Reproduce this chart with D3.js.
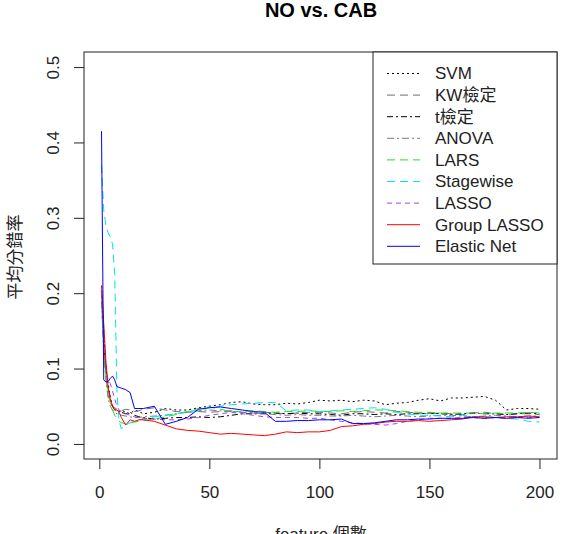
<!DOCTYPE html>
<html>
<head>
<meta charset="utf-8">
<script src="https://cdn.jsdelivr.net/npm/d3@7"></script>
<style>
  body { margin: 0; background: #fff; }
  svg { display: block; }
</style>
</head>
<body>
<script>
// feature counts (x values shared by every series)
const features = [1,2,3,4,5,6,7,8,9,10,12,14,16,18,20,25,30,35,40,45,50,55,60,65,70,75,80,85,90,95,100,
  105,110,115,120,125,130,135,140,145,150,155,160,165,170,175,180,185,190,195,200];

// mean error rate per method
const svm = [0.21,0.15,0.10,0.075,0.06,0.05,0.045,0.045,0.043,0.045,0.042,0.040,0.045,0.043,0.040,0.042,0.047,0.045,0.045,0.048,0.050,0.052,0.055,0.056,0.053,0.052,0.052,0.054,0.053,0.055,0.058,
  0.057,0.058,0.056,0.058,0.057,0.052,0.054,0.055,0.058,0.060,0.057,0.061,0.061,0.062,0.063,0.058,0.045,0.047,0.047,0.046];
const kw = [0.19,0.13,0.09,0.065,0.055,0.05,0.048,0.046,0.045,0.044,0.046,0.045,0.043,0.044,0.046,0.048,0.045,0.043,0.042,0.043,0.042,0.043,0.044,0.042,0.041,0.042,0.041,0.040,0.041,0.042,0.042,
  0.041,0.040,0.042,0.043,0.042,0.041,0.043,0.042,0.041,0.040,0.041,0.040,0.039,0.041,0.042,0.040,0.039,0.040,0.040,0.039];
const ttest = [0.20,0.14,0.10,0.08,0.06,0.05,0.045,0.045,0.043,0.042,0.040,0.042,0.038,0.036,0.035,0.033,0.034,0.035,0.035,0.036,0.035,0.036,0.038,0.040,0.040,0.040,0.041,0.040,0.041,0.040,0.040,
  0.039,0.038,0.040,0.040,0.039,0.040,0.039,0.040,0.040,0.041,0.040,0.039,0.040,0.041,0.040,0.040,0.039,0.040,0.041,0.040];
const anova = [0.19,0.12,0.085,0.06,0.05,0.045,0.042,0.040,0.040,0.038,0.037,0.036,0.035,0.035,0.036,0.037,0.038,0.040,0.042,0.044,0.045,0.044,0.043,0.042,0.041,0.040,0.039,0.038,0.039,0.038,0.038,
  0.037,0.037,0.038,0.037,0.036,0.037,0.038,0.037,0.036,0.037,0.038,0.038,0.037,0.036,0.037,0.038,0.037,0.036,0.037,0.037];
const lars = [0.20,0.13,0.09,0.07,0.055,0.045,0.038,0.033,0.030,0.028,0.027,0.028,0.029,0.030,0.031,0.033,0.036,0.039,0.043,0.047,0.049,0.046,0.043,0.043,0.044,0.043,0.042,0.043,0.043,0.044,0.043,
  0.043,0.044,0.043,0.044,0.045,0.045,0.044,0.043,0.042,0.042,0.041,0.041,0.041,0.041,0.040,0.041,0.041,0.041,0.042,0.041];
const stagewise = [0.37,0.31,0.29,0.28,0.275,0.265,0.225,0.07,0.03,0.02,0.025,0.028,0.030,0.032,0.033,0.036,0.038,0.040,0.043,0.045,0.048,0.050,0.052,0.053,0.054,0.055,0.055,0.044,0.045,0.045,0.043,
  0.044,0.045,0.046,0.047,0.048,0.046,0.042,0.040,0.038,0.038,0.037,0.036,0.038,0.036,0.035,0.036,0.034,0.033,0.030,0.029];
const lasso = [0.20,0.14,0.10,0.085,0.08,0.07,0.06,0.05,0.045,0.042,0.040,0.038,0.036,0.035,0.034,0.033,0.032,0.032,0.033,0.035,0.038,0.040,0.042,0.040,0.038,0.036,0.035,0.035,0.035,0.034,0.034,
  0.032,0.030,0.028,0.027,0.026,0.025,0.027,0.030,0.032,0.034,0.034,0.034,0.035,0.035,0.034,0.035,0.034,0.035,0.035,0.035];
const groupLasso = [0.21,0.16,0.11,0.075,0.06,0.05,0.045,0.045,0.042,0.035,0.025,0.032,0.030,0.032,0.032,0.030,0.025,0.020,0.018,0.017,0.015,0.013,0.014,0.013,0.012,0.011,0.013,0.016,0.015,0.016,0.016,
  0.018,0.023,0.024,0.026,0.027,0.029,0.030,0.030,0.031,0.030,0.031,0.032,0.033,0.036,0.036,0.035,0.036,0.036,0.037,0.036];
const elasticNet = [0.415,0.085,0.082,0.083,0.087,0.09,0.085,0.076,0.075,0.074,0.072,0.068,0.047,0.047,0.047,0.050,0.026,0.030,0.035,0.046,0.048,0.049,0.047,0.045,0.043,0.042,0.030,0.030,0.031,0.031,0.032,
  0.032,0.033,0.027,0.027,0.028,0.030,0.032,0.032,0.033,0.033,0.034,0.034,0.034,0.035,0.034,0.035,0.034,0.035,0.034,0.035];

const methods = ["SVM", "KW檢定", "t檢定", "ANOVA", "LARS", "Stagewise", "LASSO", "Group LASSO", "Elastic Net"];
const methodValues = [svm, kw, ttest, anova, lars, stagewise, lasso, groupLasso, elasticNet];
const colors = ["#000000", "#6e6e6e", "#000000", "#7a7a7a", "#22dd22", "#00e5e5", "#a040f0", "#ff0000", "#0000ff"];
const dashes = ["2,3", "8,5", "6,3,2,3", "7,3,2,3", "8,5", "8,5", "5,4", null, null];

const xTicks = [0, 50, 100, 150, 200];
const yTicks = [0, 0.1, 0.2, 0.3, 0.4, 0.5];

let width = 570;
let height = 534;
let boxLeft = 84;
let boxRight = 557;
let boxTop = 52;
let boxBottom = 459;

const font = "'Liberation Sans', Arial, 'Noto Sans CJK TC', sans-serif";

// R style axes: 4% padding on each side of the data range
let x = d3.scaleLinear()
    .domain([1 - 199 * 0.04, 200 + 199 * 0.04])
    .range([boxLeft, boxRight]);

let y = d3.scaleLinear()
    .domain([-0.02, 0.52])
    .range([boxBottom, boxTop]);

let svg = d3.select("body").append("svg")
    .attr("width", width)
    .attr("height", height)
    .attr("viewBox", [0, 0, width, height])
    .style("font-family", font);

// Title
svg.append("text")
    .attr("x", 321)
    .attr("y", 17)
    .attr("text-anchor", "middle")
    .attr("font-size", "20px")
    .attr("font-weight", "bold")
    .text("NO vs. CAB");

// Lines
const line = d3.line()
    .x((d, i) => x(features[i]))
    .y(d => y(d));

const plot = svg.append("g");
methodValues.forEach((vals, k) => {
    plot.append("path")
        .attr("fill", "none")
        .attr("stroke", colors[k])
        .attr("stroke-width", 1)
        .attr("stroke-dasharray", dashes[k])
        .attr("d", line(vals));
});

// Box
svg.append("rect")
    .attr("x", boxLeft)
    .attr("y", boxTop)
    .attr("width", boxRight - boxLeft)
    .attr("height", boxBottom - boxTop)
    .attr("fill", "none")
    .attr("stroke", "#222");

// x axis
svg.append("g")
    .attr("transform", `translate(0,${boxBottom})`)
    .call(d3.axisBottom(x).tickValues(xTicks).tickSize(10).tickPadding(17).tickSizeOuter(0))
    .call(g => g.select(".domain").remove())
    .call(g => g.selectAll(".tick line").attr("stroke", "#222"))
    .call(g => g.selectAll(".tick text").attr("font-size", "17px").attr("font-family", font).attr("fill", "#222"));

// y axis, labels rotated like R
svg.append("g")
    .attr("transform", `translate(${boxLeft},0)`)
    .call(d3.axisLeft(y).tickValues(yTicks).tickSize(10).tickFormat(d3.format(".1f")).tickSizeOuter(0))
    .call(g => g.select(".domain").remove())
    .call(g => g.selectAll(".tick line").attr("stroke", "#222"))
    .call(g => g.selectAll(".tick text")
        .attr("font-size", "17px")
        .attr("font-family", font)
        .attr("fill", "#222")
        .attr("text-anchor", "middle")
        .attr("x", null)
        .attr("transform", "translate(-31,0) rotate(-90)")
        .attr("dy", "0.35em"));

// axis titles (x title sits partly below the picture, as in the original)
svg.append("text")
    .attr("x", 321)
    .attr("y", 540)
    .attr("text-anchor", "middle")
    .attr("font-size", "17px")
    .attr("fill", "#222")
    .text("feature 個數");

svg.append("text")
    .attr("transform", "translate(21,257) rotate(-90)")
    .attr("text-anchor", "middle")
    .attr("font-size", "17px")
    .attr("fill", "#222")
    .text("平均分錯率");

// Legend
const legend = svg.append("g");
legend.append("rect")
    .attr("x", 373)
    .attr("y", boxTop)
    .attr("width", boxRight - 373)
    .attr("height", 264 - boxTop)
    .attr("fill", "white")
    .attr("stroke", "#222");

methods.forEach((m, i) => {
    const cy = 73.5 + i * 21.6;
    legend.append("line")
        .attr("x1", 387)
        .attr("x2", 420)
        .attr("y1", cy)
        .attr("y2", cy)
        .attr("stroke", colors[i])
        .attr("stroke-dasharray", dashes[i]);
    legend.append("text")
        .attr("x", 435)
        .attr("y", cy)
        .attr("dy", "0.35em")
        .attr("font-size", "17px")
        .attr("fill", "#222")
        .text(m);
});
</script>
</body>
</html>
